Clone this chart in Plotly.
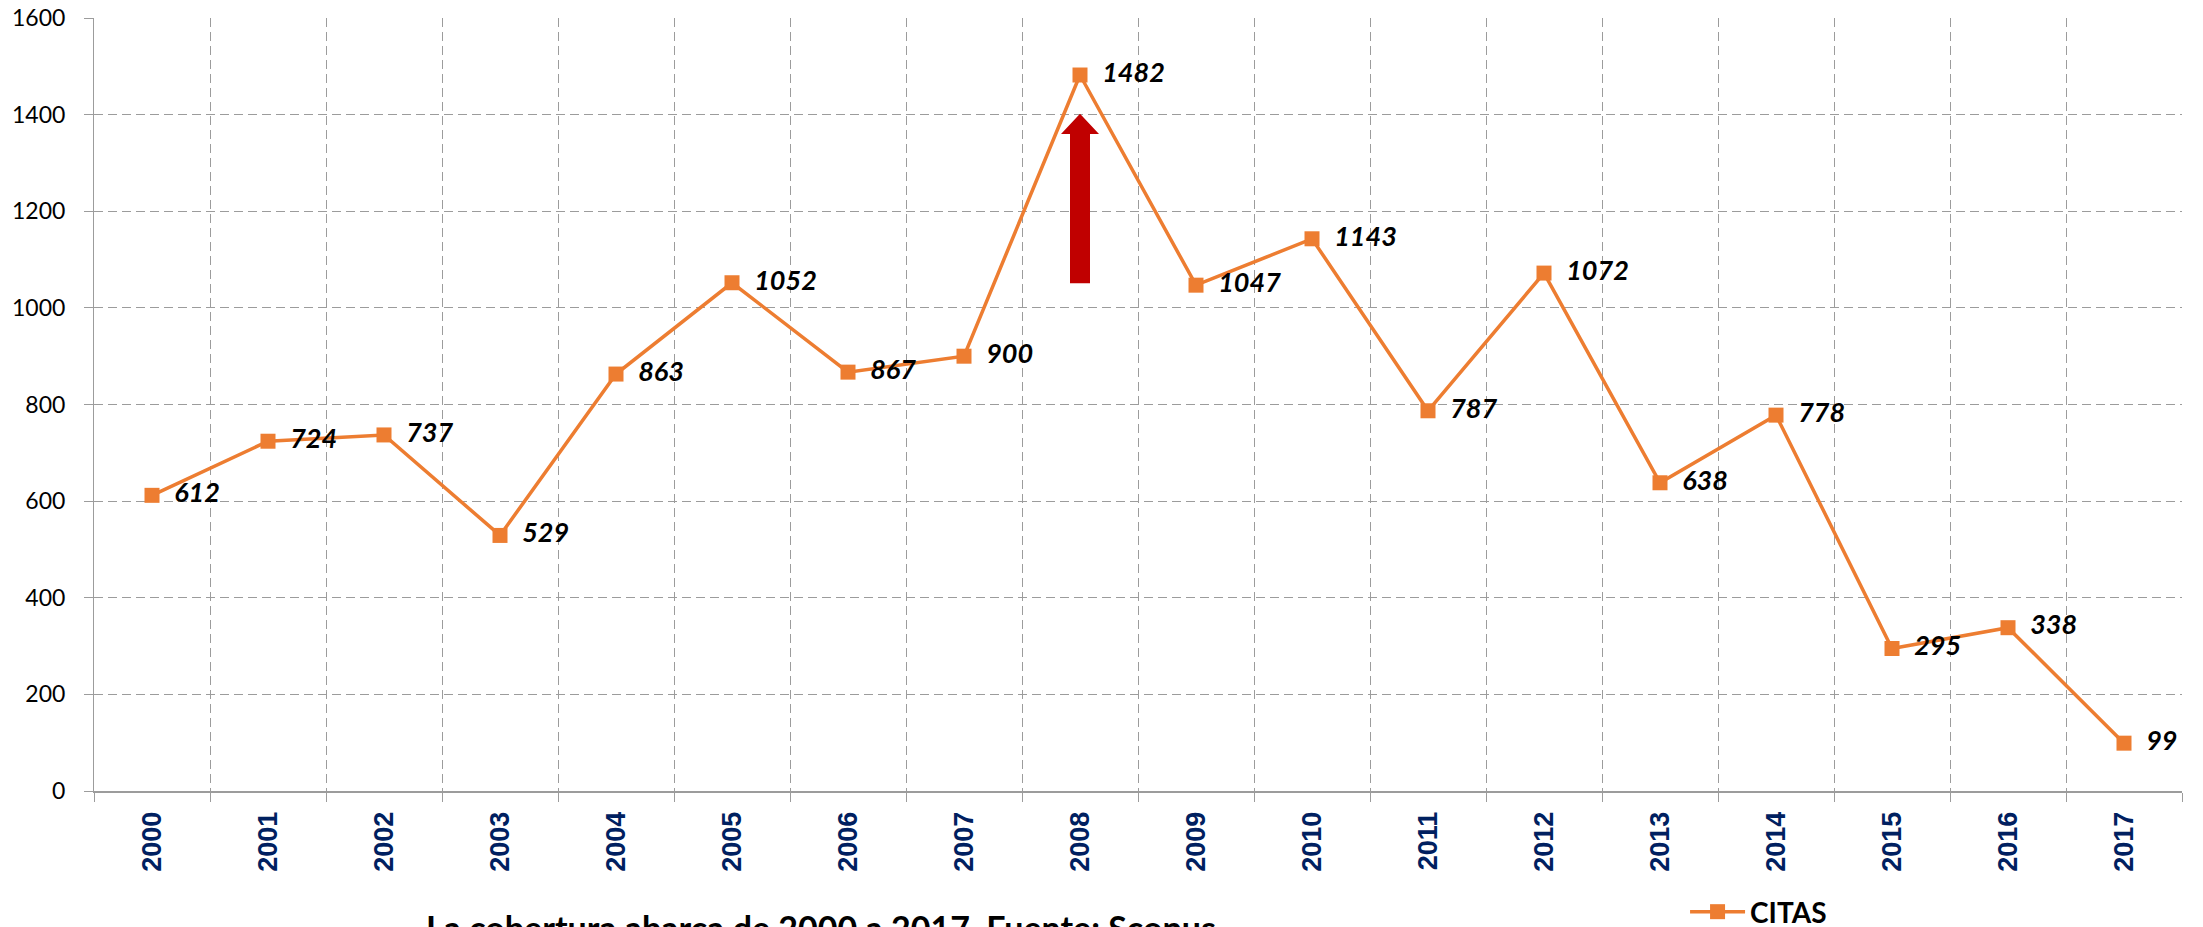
import plotly.graph_objects as go

# Citas por año (Scopus)
years = ['2000', '2001', '2002', '2003', '2004', '2005', '2006', '2007', '2008',
         '2009', '2010', '2011', '2012', '2013', '2014', '2015', '2016', '2017']
citas = [612, 724, 737, 529, 863, 1052, 867, 900, 1482,
         1047, 1143, 787, 1072, 638, 778, 295, 338, 99]
y_ticks = [0, 200, 400, 600, 800, 1000, 1200, 1400, 1600]

ORANGE = '#ED7D31'
GRID = '#9C9C9C'
NAVY = '#002060'

fig = go.Figure()
fig.add_trace(go.Scatter(
    x=years, y=citas, name='CITAS', mode='lines+markers+text',
    line=dict(color=ORANGE, width=3.5),
    marker=dict(symbol='square', size=15, color=ORANGE),
    texttemplate='\u00a0\u00a0%{y}', textposition='middle right',
    textfont=dict(family='Lato', size=27, color='black', weight='bold', style='italic'),
    cliponaxis=False,
))

# flecha roja sobre 2008 (ancho en pixeles, alto en datos)
fig.add_shape(
    type='path', xref='x', yref='y', xsizemode='pixel', xanchor=8,
    path='M -10,1051 L 10,1051 L 10,1360 L 19,1360 L 0,1402 L -19,1360 L -10,1360 Z',
    fillcolor='#C00000', line=dict(width=0), layer='above',
)

fig.add_annotation(
    text='<b>La cobertura abarca de 2000 a 2017. Fuente: Scopus</b>',
    xref='paper', yref='paper', x=0.158, y=-0.1475, xanchor='left', yanchor='top',
    showarrow=False, font=dict(family='Lato', size=34, color='black'),
)

# la pagina tiene 8px de margen en el body: figura algo menor que la ventana
fig.update_layout(
    width=2195, height=919,
    margin=dict(l=86, r=21, t=10, b=136, autoexpand=False),
    plot_bgcolor='white', paper_bgcolor='white',
    showlegend=True,
    legend=dict(orientation='h', x=0.762, y=-0.1565, xanchor='left', yanchor='middle',
                font=dict(family='Lato', size=28, color='black', weight='bold'),
                itemwidth=55, bgcolor='rgba(0,0,0,0)'),
    xaxis=dict(
        type='category', categoryorder='array', categoryarray=years,
        range=[-0.5, len(years) - 0.5], tickson='boundaries', automargin=False,
        ticks='outside', ticklen=9, tickcolor=GRID, tickangle=-90,
        ticklabelstandoff=8,
        tickfont=dict(family='Liberation Sans', size=27, color=NAVY, weight='bold'),
        showgrid=True, gridcolor=GRID, griddash='9px,5px', gridwidth=1,
        showline=True, linecolor=GRID, linewidth=2, zeroline=False,
    ),
    yaxis=dict(
        range=[0, 1600], tickvals=y_ticks, automargin=False,
        ticks='outside', ticklen=9, tickcolor=GRID, ticklabelstandoff=14,
        ticklabeloverflow='allow',
        tickfont=dict(family='Lato', size=23, color='black'),
        showgrid=True, gridcolor=GRID, griddash='9px,5px', gridwidth=1,
        showline=True, linecolor=GRID, linewidth=1, zeroline=False,
    ),
)

fig.write_html('out.html')
